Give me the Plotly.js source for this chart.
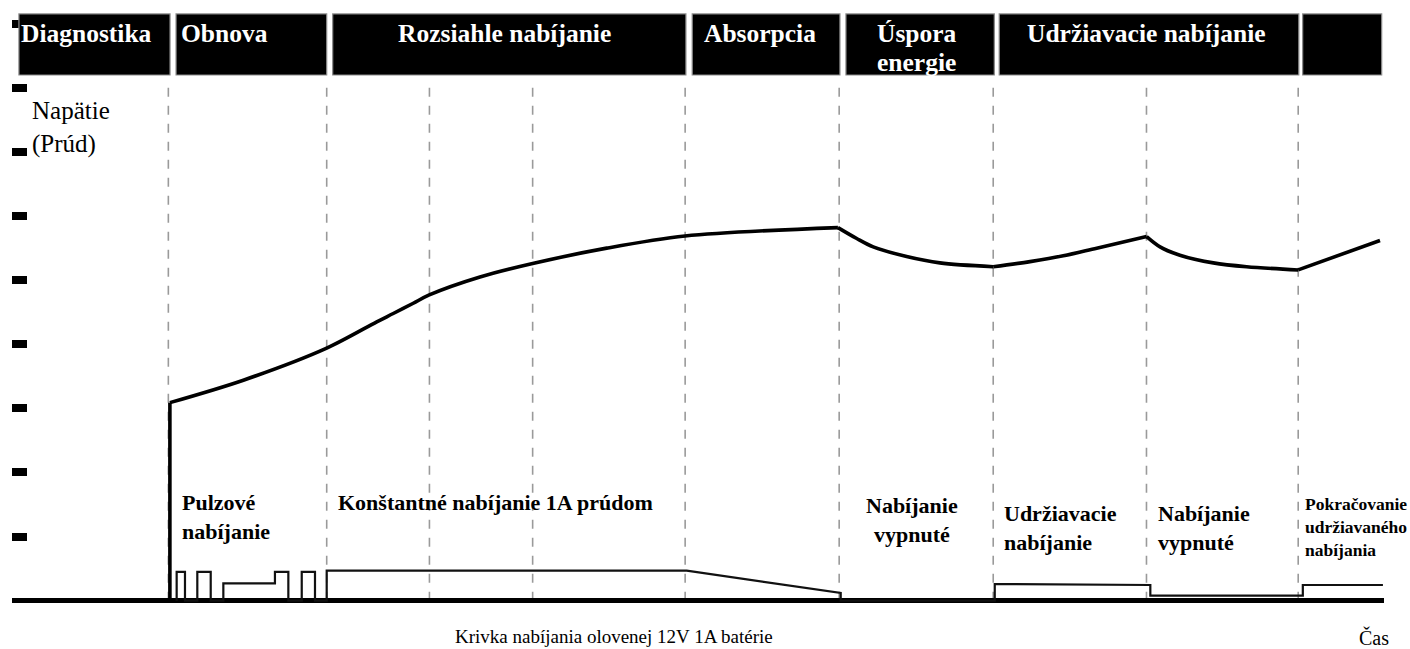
<!DOCTYPE html>
<html>
<head>
<meta charset="utf-8">
<script src="https://cdn.plot.ly/plotly-3.0.1.min.js"></script>
<style>
html,body{margin:0;padding:0;background:#fff;}
#chart{width:1410px;height:649px;}
</style>
</head>
<body>
<div id="chart"></div>
<script>
// ---- Data (time in arbitrary units, level in arbitrary units) ----
const phaseBoundaries = [10.15, 20.43, 27.1, 33.8, 43.7, 53.7, 63.7, 73.65, 83.5];

const phaseNames = ["Diagnostika", "Obnova", "Rozsiahle nabíjanie", "Absorpcia", "Úspora\nenergie", "Udržiavacie nabíjanie", ""];
const phaseStart = [0.45, 10.65, 20.82, 44.16, 54.14, 64.09, 83.79];
const phaseEnd   = [10.26, 20.43, 43.75, 53.75, 63.77, 83.54, 88.92];
const phaseLabelX = [0.45, 10.84, 32.0, 48.56, 56.03, 73.68, 86.3];
const phaseLabelAnchor = ["left", "left", "center", "center", "left", "center", "center"];

const voltageTime = [10.25, 10.25, 15.02, 20.43, 23.68, 24.75, 26.05, 27.09, 30.38, 33.8, 38.61, 43.69, 53.62,
                     54.84, 55.91, 58.08, 60.24, 63.7, 66.09, 68.25, 70.42, 73.66,
                     74.53, 75.82, 77.99, 80.15, 83.5, 88.81];
const voltageValue = [0, 3.09, 3.44, 3.94, 4.35, 4.48, 4.64, 4.77, 5.05, 5.26, 5.50, 5.69, 5.82,
                      5.65, 5.52, 5.37, 5.27, 5.21, 5.29, 5.38, 5.50, 5.68,
                      5.52, 5.39, 5.27, 5.21, 5.16, 5.62];
// indices in the voltage arrays where the curve has a sharp corner
const voltageCorners = [0, 1, 12, 17, 21, 26, 27];

const currentTime = [10.69, 10.69, 11.23, 11.23, 12.03, 12.03, 12.9, 12.9, 13.72, 13.72, 17.07, 17.07,
                     17.94, 17.94, 18.81, 18.81, 19.67, 19.67, 20.43, 20.43, 43.8, 53.8, 53.8, 63.8,
                     63.8, 73.9, 73.9, 83.8, 83.8, 89.0];
const currentValue = [0, 0.45, 0.45, 0, 0, 0.45, 0.45, 0, 0, 0.27, 0.27, 0.45,
                      0.45, 0, 0, 0.45, 0.45, 0, 0, 0.47, 0.47, 0.12, 0, 0,
                      0.26, 0.245, 0.08, 0.08, 0.245, 0.245];

const modeLabels = ["Pulzové<br>nabíjanie", "Konštantné nabíjanie 1A prúdom", "Nabíjanie<br>vypnuté",
                    "Udržiavacie<br>nabíjanie", "Nabíjanie<br>vypnuté", "Pokračovanie<br>udržiavaného<br>nabíjania"];
const modeLabelX = [10.9, 21.03, 58.43, 64.27, 74.27, 83.82];
const modeLabelY = [1.76, 1.76, 1.71, 1.58, 1.59, 1.69];
const modeLabelAnchor = ["left", "left", "center", "left", "left", "left"];
const modeLabelSize = [22, 22, 22, 22, 22, 17.5];

const yTicks = [1, 2, 3, 4, 5, 6, 7, 8, 9];
const yAxisLabel = "Napätie<br>(Prúd)";
const xAxisLabel = "Čas";
const chartTitle = "Krivka nabíjania olovenej 12V 1A batérie";

// ---- Build ----
const serif = '"Liberation Serif", "Times New Roman", serif';
const headerTop = 9.153, headerBottom = 8.201, dashTop = 8.08;
const headerTextTop = 9.1, headerLineStep = 0.45;

const traces = [];
for (let k = 0; k < voltageCorners.length - 1; k++) {
  const a = voltageCorners[k], b = voltageCorners[k + 1];
  const smooth = (b - a) > 1;
  traces.push({
    x: voltageTime.slice(a, b + 1), y: voltageValue.slice(a, b + 1), mode: "lines",
    line: {color: "#000", width: 3.6, shape: smooth ? "spline" : "linear", smoothing: 0.9},
    hoverinfo: "skip", showlegend: false
  });
}
traces.push({x: currentTime, y: currentValue, mode: "lines", line: {color: "#111", width: 2.2},
             hoverinfo: "skip", showlegend: false});

const shapes = [];
phaseBoundaries.forEach(b => shapes.push({
  type: "line", xref: "x", yref: "y", x0: b, x1: b, y0: 0, y1: dashTop,
  line: {color: "#9a9a9a", width: 1.6, dash: "dash"}, layer: "below"
}));
phaseStart.forEach((s, i) => shapes.push({
  type: "rect", xref: "x", yref: "y", x0: s, x1: phaseEnd[i], y0: headerBottom, y1: headerTop,
  fillcolor: "#000", line: {color: "#8a8a8a", width: 1.2}, layer: "above"
}));

const annotations = [];
phaseNames.forEach((n, i) => {
  if (!n) return;
  n.split("\n").forEach((line, j) => annotations.push({
    xref: "x", yref: "y", x: phaseLabelX[i], y: headerTextTop - j * headerLineStep,
    xanchor: phaseLabelAnchor[i], yanchor: "top",
    text: "<b>" + line + "</b>", showarrow: false,
    font: {family: serif, size: 25.5, color: "#fff"}
  }));
});
modeLabels.forEach((n, i) => annotations.push({
  xref: "x", yref: "y", x: modeLabelX[i], y: modeLabelY[i], xanchor: modeLabelAnchor[i], yanchor: "top",
  text: "<b>" + n + "</b>", showarrow: false, align: modeLabelAnchor[i] === "center" ? "center" : "left",
  font: {family: serif, size: modeLabelSize[i], color: "#000"}
}));
annotations.push({
  xref: "x", yref: "y", x: 1.15, y: 7.89, xanchor: "left", yanchor: "top", align: "left",
  text: yAxisLabel, showarrow: false, font: {family: serif, size: 25, color: "#000"}
});
annotations.push({
  xref: "x", yref: "paper", x: 39.1, y: -0.0186, xanchor: "center", yanchor: "top",
  text: chartTitle, showarrow: false, font: {family: serif, size: 19, color: "#000"}
});
annotations.push({
  xref: "x", yref: "paper", x: 87.32, y: -0.0186, xanchor: "left", yanchor: "top",
  text: xAxisLabel, showarrow: false, font: {family: serif, size: 20, color: "#000"}
});

const layout = {
  width: 1410, height: 649,
  margin: {l: 12, r: 26, t: 10, b: 36, pad: 0},
  paper_bgcolor: "#fff", plot_bgcolor: "#fff",
  showlegend: false,
  hovermode: false,
  xaxis: {range: [0, 89.07], showgrid: false, zeroline: false, showline: false,
          showticklabels: false, ticks: "", fixedrange: true},
  yaxis: {range: [-0.192, 9.215], showgrid: false, showline: false, showticklabels: false,
          tickmode: "array", tickvals: yTicks, ticks: "inside", ticklen: 15, tickwidth: 8, tickcolor: "#000",
          zeroline: true, zerolinecolor: "#000", zerolinewidth: 5, fixedrange: true},
  shapes: shapes,
  annotations: annotations
};

Plotly.newPlot("chart", traces, layout, {displayModeBar: false, staticPlot: true});
</script>
</body>
</html>
